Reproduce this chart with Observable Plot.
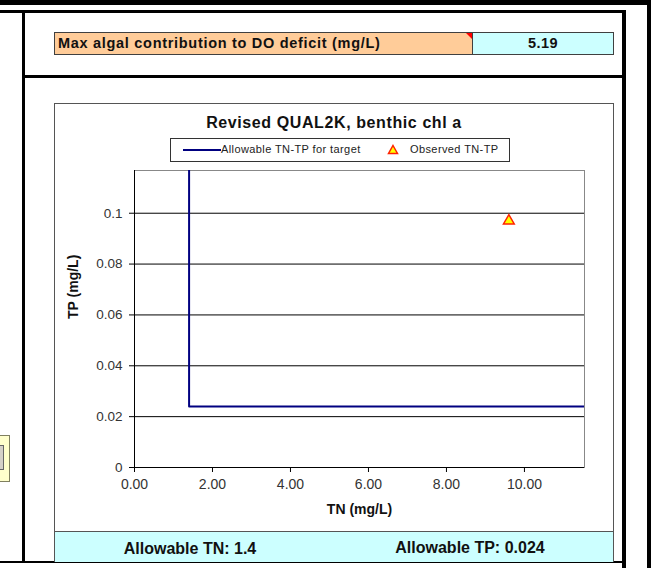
<!DOCTYPE html>
<html><head><meta charset="utf-8">
<script src="https://cdn.jsdelivr.net/npm/d3@7"></script>
<script src="https://cdn.jsdelivr.net/npm/@observablehq/plot@0.6"></script>
<style>
body{margin:0;background:#fff;font-family:"Liberation Sans",Arial,sans-serif;}
#page{position:relative;width:654px;height:568px;overflow:hidden;background:#fff;}
.a{position:absolute;box-sizing:border-box;}
.blk{background:#000;}
</style></head><body><div id="page">
<div class="a blk" style="left:0;top:0;width:650px;height:5px"></div>
<div class="a blk" style="left:0;top:10px;width:626px;height:3px"></div>
<div class="a blk" style="left:22px;top:10px;width:3px;height:553px"></div>
<div class="a blk" style="left:622px;top:10px;width:4px;height:558px"></div>
<div class="a blk" style="left:22px;top:75px;width:604px;height:3px"></div>
<div class="a blk" style="left:0;top:561px;width:626px;height:2px"></div>
<div class="a blk" style="left:647px;top:0;width:4px;height:568px"></div>

<div class="a" style="left:-1px;top:435px;width:11px;height:47px;background:#FFFFCC;border:1px solid #808060"></div>
<div class="a" style="left:-1px;top:445px;width:5px;height:25px;background:#D4D0C8;border:1px solid #666"></div>

<div class="a" id="cellLabel" style="left:54px;top:32px;width:419px;height:23px;background:#FFCC99;border:1px solid #404040;font-weight:bold;font-size:14.5px;letter-spacing:0.7px;line-height:21px;padding-left:3px;color:#111;white-space:nowrap"></div>
<div class="a" style="left:466px;top:33px;width:0;height:0;border-left:6px solid transparent;border-top:6px solid #FF0000"></div>
<div class="a" id="cellValue" style="left:472px;top:32px;width:142px;height:23px;background:#CCFFFF;border:1px solid #404040;font-weight:bold;font-size:14.5px;letter-spacing:0.5px;line-height:21px;text-align:center;color:#111"></div>

<div class="a" style="left:54px;top:103px;width:560px;height:429px;border:1px solid #555;background:#fff"></div>
<div class="a" id="title" style="left:54px;top:113px;width:560px;text-align:center;font-weight:bold;font-size:16px;letter-spacing:0.6px;line-height:20px;color:#111"></div>
<div class="a" id="legend" style="left:170px;top:138px;width:340px;height:24px;border:1.5px solid #333;font-size:11px;letter-spacing:0.4px;color:#222;white-space:nowrap"></div>
<div class="a" id="plot" style="left:54px;top:165px;width:560px;height:366px"></div>

<div class="a" style="left:54px;top:531px;width:560px;height:31px;background:#CCFFFF;border:1px solid #555;border-bottom:none"></div>
<div class="a" id="tnText" style="left:90px;top:539px;width:200px;text-align:center;font-weight:bold;font-size:16px;line-height:20px;color:#111"></div>
<div class="a" id="tpText" style="left:370px;top:538px;width:200px;text-align:center;font-weight:bold;font-size:16px;line-height:20px;color:#111"></div>
</div>
<script>
// ---- data ----
const cellLabel = "Max algal contribution to DO deficit (mg/L)";
const cellValue = "5.19";
const chartTitle = "Revised QUAL2K, benthic chl a";
const seriesNames = ["Allowable TN-TP for target", "Observed TN-TP"];
const tnLine = [1.4, 1.4, 12];
const tpLine = [0.2, 0.024, 0.024];
const tnObs = [9.6];
const tpObs = [0.097];
const xTicks = [0, 2, 4, 6, 8, 10];
const xTickLabels = ["0.00", "2.00", "4.00", "6.00", "8.00", "10.00"];
const yTicks = [0, 0.02, 0.04, 0.06, 0.08, 0.1];
const yTickLabels = ["0", "0.02", "0.04", "0.06", "0.08", "0.1"];
const xTitle = "TN (mg/L)";
const yTitle = "TP (mg/L)";
const allowTN = 1.4;
const allowTP = 0.024;
const xMax = 11.54;
const yMax = 0.1168;

document.getElementById("cellLabel").textContent = cellLabel;
document.getElementById("cellValue").textContent = cellValue;
document.getElementById("title").textContent = chartTitle;
document.getElementById("tnText").textContent = "Allowable TN: " + allowTN;
document.getElementById("tpText").textContent = "Allowable TP: " + allowTP;

const lg = document.getElementById("legend");
lg.innerHTML =
  '<svg width="40" height="10" style="position:absolute;left:12px;top:6px"><line x1="0" y1="5" x2="38" y2="5" stroke="#000080" stroke-width="2"/></svg>' +
  '<span style="position:absolute;left:50px;top:4px;line-height:13px">' + seriesNames[0] + '</span>' +
  '<svg width="12" height="12" style="position:absolute;left:216px;top:5px"><path d="M6,1.5L10.5,9.5L1.5,9.5Z" fill="#FFFF00" stroke="#FF2200" stroke-width="1.5"/></svg>' +
  '<span style="position:absolute;left:239px;top:4px;line-height:13px">' + seriesNames[1] + '</span>';

const lineData = tnLine.map((tn, i) => ({tn, tp: tpLine[i]}));
const obsData = tnObs.map((tn, i) => ({tn, tp: tpObs[i]}));

const chart = Plot.plot({
  width: 560, height: 366,
  marginLeft: 80, marginRight: 30, marginTop: 5, marginBottom: 64,
  x: {domain: [0, xMax]},
  y: {domain: [0, yMax]},
  style: {fontFamily: "Liberation Sans, Arial, sans-serif", fontSize: "13px", color: "#333", background: "transparent", overflow: "visible"},
  marks: [
    Plot.frame({stroke: "#888"}),
    Plot.ruleY(yTicks, {stroke: "#000", strokeWidth: 1}),
    Plot.ruleX([0], {stroke: "#000", strokeWidth: 1}),
    Plot.axisY(yTicks, {tickSize: 5, tickPadding: 7, stroke: "#000", tickFormat: d => yTickLabels[yTicks.indexOf(d)], label: null, fontSize: 13.5, letterSpacing: "0.2px"}),
    Plot.axisX(xTicks, {tickSize: 5, tickPadding: 7, stroke: "#000", tickFormat: d => xTickLabels[xTicks.indexOf(d)], label: null, fontSize: 14, letterSpacing: "0.5px"}),
    Plot.line(lineData, {x: "tn", y: "tp", stroke: "#000080", strokeWidth: 2, clip: true}),
    Plot.dot(obsData, {x: "tn", y: "tp", symbol: "triangle", r: 4, fill: "#FFFF00", stroke: "#FF2200", strokeWidth: 1.5}),
    Plot.text([xTitle], {text: d => d, frameAnchor: "bottom", dy: 46, fontWeight: "bold", fontSize: 14, fill: "#111"}),
    Plot.text([yTitle], {text: d => d, frameAnchor: "left", dx: -61, rotate: -90, fontWeight: "bold", fontSize: 14, fill: "#111"})
  ]
});
document.getElementById("plot").appendChild(chart);
</script>
</body></html>
